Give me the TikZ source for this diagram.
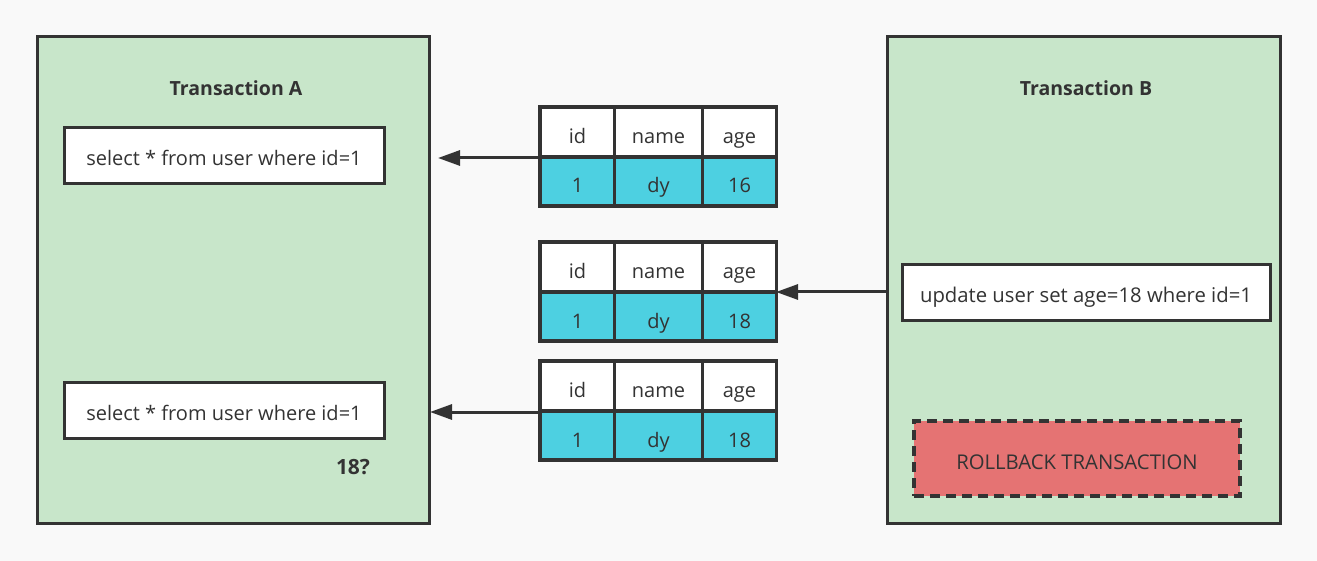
\documentclass[tikz,border=0pt]{standalone}
\usepackage{fontspec}
\setmainfont{Open Sans}
\usetikzlibrary{arrows.meta}
\definecolor{bg}{HTML}{F9F9F9}
\definecolor{grn}{HTML}{C8E6CA}
\definecolor{dk}{HTML}{333333}
\definecolor{cy}{HTML}{4DD0E1}
\definecolor{rd}{HTML}{E57373}
\tikzset{
  txbox/.style={draw=dk, line width=3pt, fill=grn},
  qbox/.style={draw=dk, line width=3pt, fill=white, text=dk, text height=20pt, text depth=0pt},
  hcell/.style={draw=dk, line width=3.5pt, fill=white, font=\fontsize{20}{24}\selectfont, text=dk, text height=23pt, text depth=0pt},
  dcell/.style={hcell, fill=cy},
  ttl/.style={font=\bfseries\fontsize{19.5}{23}\selectfont, text=dk},
  conn/.style={draw=dk, line width=3pt, -{Triangle[length=22pt,width=15pt]}},
}
\begin{document}
\begin{tikzpicture}[x=1pt,y=-1pt]
\fill[bg] (0,0) rectangle (1317,561);
\useasboundingbox (0,0) rectangle (1317,561);
% Transaction boxes
\draw[txbox] (37,37) rectangle (429,523);
\draw[txbox] (887,37) rectangle (1280,523);
\node[ttl] (tA) at (236,88) {Transaction A};
\node[ttl] (tB) at (1086,88) {Transaction B};
% queries
\node[qbox, font=\fontsize{20}{24}\selectfont, minimum width=320pt, minimum height=56pt] (q1) at (224,156) {select * from user where id=1};
\node[qbox, font=\fontsize{20}{24}\selectfont, minimum width=320pt, minimum height=56pt] (q2) at (224,410) {select * from user where id=1};
\node[ttl, font=\bfseries\fontsize{21}{24}\selectfont] (q) at (353,467) {18?};
\node[qbox, font=\fontsize{20.3}{24}\selectfont, minimum width=368pt, minimum height=55pt] (u) at (1086,292.5) {update user set age=18 where id=1};
\node[draw=dk, dash pattern=on 10pt off 6pt, line width=3.5pt, fill=rd, minimum width=326pt, minimum height=75pt, font=\fontsize{20.3}{24}\selectfont, text=dk, text height=21pt, text depth=0pt] (rb) at (1077,458.5) {ROLLBACK TRANSACTION};
% tables
\foreach \t/\y/\a in {1/107/16, 2/242/18, 3/361/18}{
  \node[hcell, minimum width=75pt, minimum height=50pt] (h\t a) at (577.5,\y+25) {id};
  \node[hcell, minimum width=88pt, minimum height=50pt] (h\t b) at (658.5,\y+25) {name};
  \node[hcell, minimum width=74pt, minimum height=50pt] (h\t c) at (739.5,\y+25) {age};
  \node[dcell, minimum width=75pt, minimum height=49pt] (d\t a) at (577.5,\y+74.5) {1};
  \node[dcell, minimum width=88pt, minimum height=49pt] (d\t b) at (658.5,\y+74.5) {dy};
  \node[dcell, minimum width=74pt, minimum height=49pt] (d\t c) at (739.5,\y+74.5) {\a};
}
% connectors
\coordinate (e1) at (438,158);
\coordinate (s1) at (540,158);
\draw[conn] (s1) -- (e1);
\coordinate (s2) at (887,292);
\coordinate (e2) at (776,292);
\draw[conn] (s2) -- (e2);
\coordinate (s3) at (540,412);
\coordinate (e3) at (430,412);
\draw[conn] (s3) -- (e3);
\end{tikzpicture}
\end{document}
